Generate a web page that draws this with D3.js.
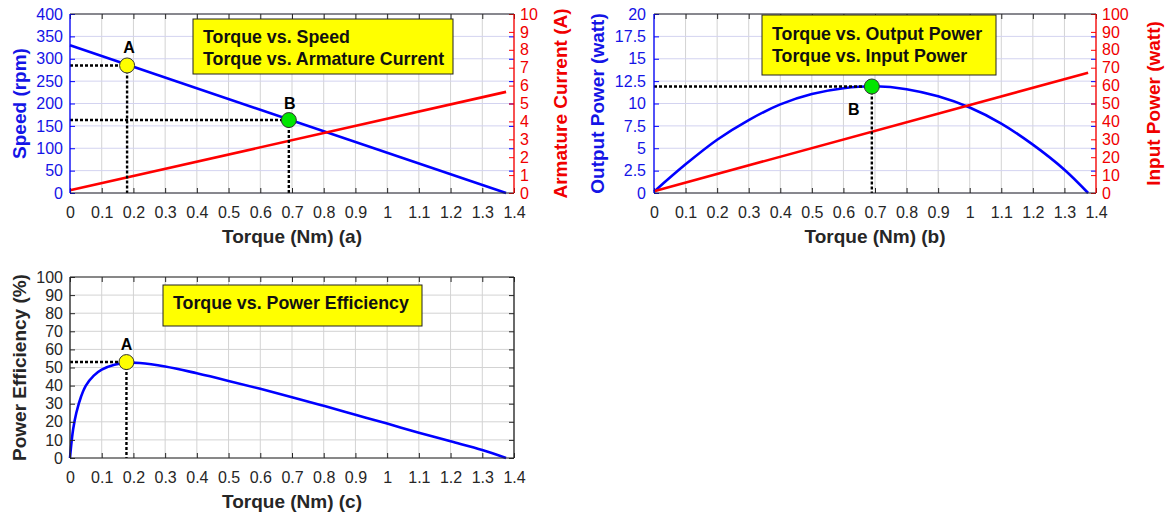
<!DOCTYPE html>
<html>
<head>
<meta charset="utf-8">
<script src="https://cdn.jsdelivr.net/npm/d3@7"></script>
<style>
  body { margin: 0; background: #fff; }
  svg { display: block; font-family: "Liberation Sans", Arial, sans-serif; }
</style>
</head>
<body>
<svg id="chart" width="1165" height="517"></svg>
<script>
// ---- data -------------------------------------------------------------
const torqueTicks = [0, 0.1, 0.2, 0.3, 0.4, 0.5, 0.6, 0.7, 0.8, 0.9, 1, 1.1, 1.2, 1.3, 1.4];

// (a) speed and armature current against torque
const speedTicks   = [0, 50, 100, 150, 200, 250, 300, 350, 400];
const currentTicks = [0, 1, 2, 3, 4, 5, 6, 7, 8, 9, 10];
const speedTorque  = [0, 1.375];
const speedRpm     = [330, 0];
const currentTorque = [0, 1.375];
const currentAmp    = [0.15, 5.65];
const pointA_speed = [0.18, 285];
const pointB_speed = [0.69, 163];

// (b) output and input power against torque
const outPowerTicks = [0, 2.5, 5, 7.5, 10, 12.5, 15, 17.5, 20];
const inPowerTicks  = [0, 10, 20, 30, 40, 50, 60, 70, 80, 90, 100];
const outPowerTorque = [0, 0.1, 0.2, 0.3, 0.4, 0.5, 0.6, 0.7, 0.8, 0.9, 1.0, 1.1, 1.2, 1.3, 1.375];
const outPowerWatt   = [0.15, 3.2, 5.95, 8.15, 9.9, 11.05, 11.7, 11.92, 11.6, 10.8, 9.55, 7.75, 5.4, 2.6, 0];
const inPowerTorque  = [0, 1.375];
const inPowerWatt    = [1.0, 67.2];
const pointB_power = [0.69, 11.9];

// (c) efficiency against torque
const effTicks = [0, 10, 20, 30, 40, 50, 60, 70, 80, 90, 100];
const effTorque  = [0, 0.005, 0.01, 0.02, 0.035, 0.05, 0.075, 0.1, 0.14, 0.18, 0.22, 0.3, 0.4, 0.5, 0.6, 0.7, 0.8, 0.9, 1.0, 1.1, 1.2, 1.3, 1.375];
const effPercent = [0, 9, 16, 25, 34, 40, 45.5, 48.8, 51.5, 52.6, 52.5, 50.6, 46.8, 42.6, 38.2, 33.6, 28.8, 23.9, 19, 14, 9.2, 4.4, 0];
const pointA_eff = [0.178, 53];

// ---- styling ----------------------------------------------------------
const BLUE = "#0000ff", BLUE_TXT = "#1414e6";
const RED = "#ff0000", RED_TXT = "#f00000";
const DARK = "#262626";
const GRID_V = "#d3d3d3";
const TICK = 5;

const svg = d3.select("#chart");
const zip = (a, b) => a.map((v, i) => [v, b[i]]);

function panel(cfg) {
  const { left, right, top, bottom } = cfg.box;
  const x = d3.scaleLinear().domain([0, 1.4]).range([left, right]);
  const yL = d3.scaleLinear().domain(cfg.leftDomain).range([bottom, top]);
  const yR = cfg.rightDomain ? d3.scaleLinear().domain(cfg.rightDomain).range([bottom, top]) : null;
  const g = svg.append("g");

  // grid
  g.append("g").selectAll("line").data(torqueTicks).join("line")
    .attr("x1", d => x(d)).attr("x2", d => x(d)).attr("y1", top).attr("y2", bottom)
    .attr("stroke", GRID_V).attr("stroke-width", 1);
  g.append("g").selectAll("line").data(cfg.leftTicks).join("line")
    .attr("x1", left).attr("x2", right).attr("y1", d => yL(d)).attr("y2", d => yL(d))
    .attr("stroke", cfg.hGrid).attr("stroke-width", 1);

  // series
  const lineL = d3.line().x(d => x(d[0])).y(d => yL(d[1])).curve(d3.curveCatmullRom.alpha(0.5));
  const lineR = yR ? d3.line().x(d => x(d[0])).y(d => yR(d[1])) : null;
  cfg.series.forEach(s => {
    g.append("path").datum(s.data)
      .attr("d", s.axis === "right" ? lineR : lineL)
      .attr("fill", "none").attr("stroke", s.color).attr("stroke-width", 2.6)
      .attr("stroke-linejoin", "round");
  });

  // dotted guides and markers
  cfg.points.forEach(p => {
    const px = x(p.at[0]), py = yL(p.at[1]);
    g.append("path")
      .attr("d", `M${left},${py}H${px}M${px},${py}V${bottom}`)
      .attr("fill", "none").attr("stroke", "#000").attr("stroke-width", 2.4)
      .attr("stroke-dasharray", "3,2");
    g.append("circle").attr("cx", px).attr("cy", py).attr("r", 7.5)
      .attr("fill", p.fill).attr("stroke", "#333").attr("stroke-width", 1);
    g.append("text").attr("x", px + p.dx).attr("y", py + p.dy)
      .attr("text-anchor", "middle").attr("font-weight", "bold").attr("font-size", 16)
      .attr("fill", "#000").text(p.label);
  });

  // bottom axis
  const ax = g.append("g").attr("transform", `translate(0,${bottom})`)
    .call(d3.axisBottom(x).tickValues(torqueTicks).tickFormat(d => String(d))
      .tickSize(-TICK).tickPadding(14).tickSizeOuter(0));
  ax.select(".domain").remove();
  ax.selectAll("line").attr("stroke", DARK);
  ax.selectAll("text").attr("font-size", 16).attr("fill", DARK).attr("font-family", null);
  // top ticks
  const axT = g.append("g").attr("transform", `translate(0,${top})`)
    .call(d3.axisTop(x).tickValues(torqueTicks).tickFormat("").tickSize(-TICK).tickSizeOuter(0));
  axT.select(".domain").remove();
  axT.selectAll("line").attr("stroke", DARK);

  // left axis
  const al = g.append("g").attr("transform", `translate(${left},0)`)
    .call(d3.axisLeft(yL).tickValues(cfg.leftTicks).tickFormat(d => String(d))
      .tickSize(-TICK).tickPadding(cfg.leftPad).tickSizeOuter(0));
  al.select(".domain").remove();
  al.selectAll("line").attr("stroke", cfg.leftColor);
  al.selectAll("text").attr("font-size", 16).attr("fill", cfg.leftTextColor).attr("font-family", null);
  // left ticks mirrored on the right edge
  const alm = g.append("g").attr("transform", `translate(${right},0)`)
    .call(d3.axisRight(yL).tickValues(cfg.leftTicks).tickFormat("").tickSize(-TICK).tickSizeOuter(0));
  alm.select(".domain").remove();
  alm.selectAll("line").attr("stroke", cfg.leftColor);

  // right axis
  if (yR) {
    const ar = g.append("g").attr("transform", `translate(${right},0)`)
      .call(d3.axisRight(yR).tickValues(cfg.rightTicks).tickFormat(d => String(d))
        .tickSize(-TICK).tickPadding(6).tickSizeOuter(0));
    ar.select(".domain").remove();
    ar.selectAll("line").attr("stroke", RED);
    ar.selectAll("text").attr("font-size", 16).attr("fill", RED_TXT).attr("font-family", null);
  }

  // frame
  g.append("line").attr("x1", left).attr("x2", right).attr("y1", top).attr("y2", top).attr("stroke", DARK);
  g.append("line").attr("x1", left).attr("x2", right).attr("y1", bottom).attr("y2", bottom).attr("stroke", DARK);
  g.append("line").attr("x1", left).attr("x2", left).attr("y1", top).attr("y2", bottom)
    .attr("stroke", cfg.leftColor).attr("stroke-width", 1.3);
  g.append("line").attr("x1", right).attr("x2", right).attr("y1", top).attr("y2", bottom)
    .attr("stroke", yR ? RED : DARK).attr("stroke-width", 1.3);

  // axis titles
  g.append("text").attr("x", (left + right) / 2).attr("y", cfg.xTitleY)
    .attr("text-anchor", "middle").attr("font-weight", "bold").attr("font-size", 19)
    .attr("fill", DARK).text(cfg.xTitle);
  g.append("text").attr("transform", `translate(${cfg.leftTitleX},${(top + bottom) / 2}) rotate(-90)`)
    .attr("text-anchor", "middle").attr("dy", "0.35em").attr("font-weight", "bold").attr("font-size", 19)
    .attr("fill", cfg.leftTextColor).text(cfg.leftTitle);
  if (yR) {
    g.append("text").attr("transform", `translate(${cfg.rightTitleX},${(top + bottom) / 2}) rotate(-90)`)
      .attr("text-anchor", "middle").attr("dy", "0.35em").attr("font-weight", "bold").attr("font-size", 19)
      .attr("fill", RED_TXT).text(cfg.rightTitle);
  }

  // caption box
  const c = cfg.caption;
  g.append("rect").attr("x", c.x).attr("y", c.y).attr("width", c.w).attr("height", c.h)
    .attr("fill", "#ffff00").attr("stroke", "#222").attr("stroke-width", 1);
  c.lines.forEach((t, i) => {
    g.append("text").attr("x", c.x + 10).attr("y", c.y + c.firstBase + i * 21.5)
      .attr("font-weight", "bold").attr("font-size", 17.8).attr("fill", "#111").text(t);
  });
}

// (a)
panel({
  box: { left: 70, right: 514, top: 14, bottom: 193 },
  leftDomain: [0, 400], leftTicks: speedTicks, leftPad: 7,
  rightDomain: [0, 10], rightTicks: currentTicks,
  leftColor: BLUE, leftTextColor: BLUE_TXT, hGrid: "#d3d3f0",
  series: [
    { data: zip(speedTorque, speedRpm), axis: "left", color: BLUE },
    { data: zip(currentTorque, currentAmp), axis: "right", color: RED }
  ],
  points: [
    { at: pointA_speed, fill: "#ffff00", label: "A", dx: 2, dy: -12 },
    { at: pointB_speed, fill: "#00e600", label: "B", dx: 1, dy: -11 }
  ],
  xTitle: "Torque (Nm) (a)", xTitleY: 243,
  leftTitle: "Speed (rpm)", leftTitleX: 19,
  rightTitle: "Armature Current (A)", rightTitleX: 560,
  caption: { x: 193, y: 19, w: 260, h: 55, firstBase: 24, lines: ["Torque vs. Speed", "Torque vs. Armature Current"] }
});

// (b)
panel({
  box: { left: 654, right: 1096, top: 14, bottom: 193 },
  leftDomain: [0, 20], leftTicks: outPowerTicks, leftPad: 8,
  rightDomain: [0, 100], rightTicks: inPowerTicks,
  leftColor: BLUE, leftTextColor: BLUE_TXT, hGrid: "#d3d3f0",
  series: [
    { data: zip(outPowerTorque, outPowerWatt), axis: "left", color: BLUE },
    { data: zip(inPowerTorque, inPowerWatt), axis: "right", color: RED }
  ],
  points: [
    { at: pointB_power, fill: "#00e600", label: "B", dx: -18, dy: 29 }
  ],
  xTitle: "Torque (Nm) (b)", xTitleY: 243,
  leftTitle: "Output Power (watt)", leftTitleX: 597,
  rightTitle: "Input Power (watt)", rightTitleX: 1153,
  caption: { x: 762, y: 15, w: 234, h: 60, firstBase: 25, lines: ["Torque vs. Output Power", "Torque vs. Input Power"] }
});

// (c)
panel({
  box: { left: 70, right: 514, top: 277, bottom: 458 },
  leftDomain: [0, 100], leftTicks: effTicks, leftPad: 7,
  leftColor: DARK, leftTextColor: DARK, hGrid: GRID_V,
  series: [
    { data: zip(effTorque, effPercent), axis: "left", color: BLUE }
  ],
  points: [
    { at: pointA_eff, fill: "#ffff00", label: "A", dx: 0, dy: -12 }
  ],
  xTitle: "Torque (Nm) (c)", xTitleY: 508,
  leftTitle: "Power Efficiency (%)", leftTitleX: 19,
  caption: { x: 163, y: 285, w: 259, h: 41, firstBase: 24, lines: ["Torque vs. Power Efficiency"] }
});
</script>
</body>
</html>
